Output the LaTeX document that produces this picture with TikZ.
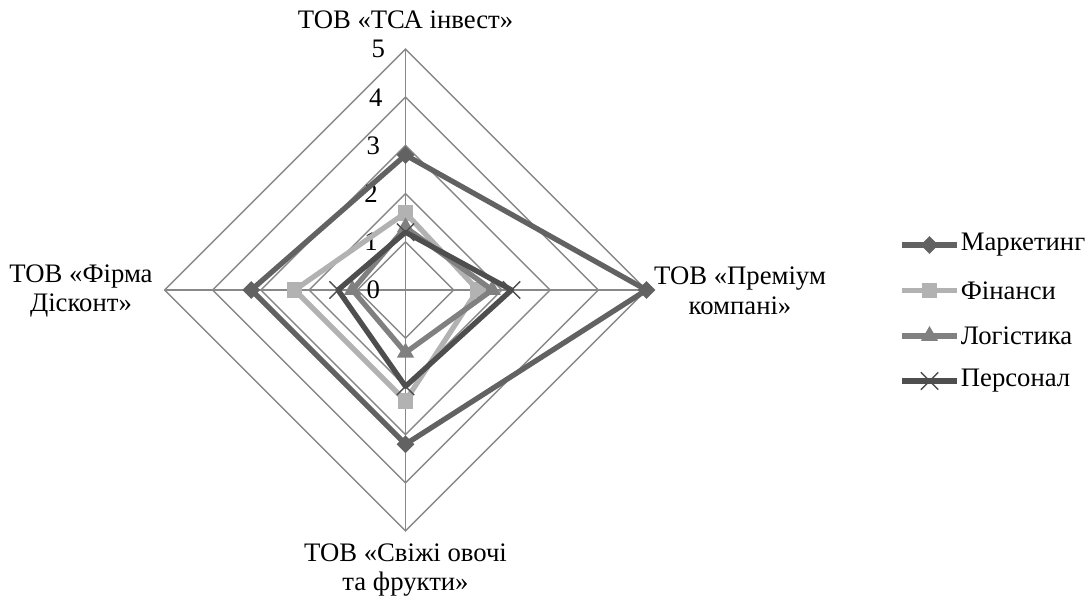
\documentclass[tikz,border=0pt]{standalone}
\usepackage{fontspec}
\setmainfont{Liberation Serif}
\usepackage{xcolor}
\usepackage{tikz}
\definecolor{markgray}{RGB}{98, 98, 98}
\definecolor{fingray}{RGB}{178, 178, 178}
\definecolor{loggray}{RGB}{128, 128, 128}
\definecolor{persgray}{RGB}{78, 78, 78}
\definecolor{gridgray}{RGB}{136, 136, 136}
\usetikzlibrary{shapes.geometric, shapes.misc, positioning}

\begin{document}
\begin{tikzpicture}[
    x=0.02cm, y=-0.02cm,
    font=\fontsize{15.2}{17}\selectfont,
    gridline/.style={draw=gridgray, line width=0.8pt},
    series/.style={line width=3pt, line join=round},
    mdiamond/.style={diamond, fill=markgray, inner sep=0pt, minimum size=0.36cm},
    msquare/.style={rectangle, fill=fingray, inner sep=0pt, minimum size=0.31cm},
    mtriangle/.style={regular polygon, regular polygon sides=3, fill=loggray,
                      inner sep=0pt, minimum size=0.4cm},
    mcross/.style={cross out, draw=persgray, line width=0.8pt,
                   inner sep=0pt, minimum size=0.32cm},
    axislabel/.style={align=center, inner sep=0pt},
    ticklabel/.style={anchor=east, inner sep=0pt},
    legtext/.style={inner sep=2pt}
]
    \useasboundingbox (0,0) rectangle (1086,601);
    \coordinate (c) at (405.5,290);

    \begin{scope}[shift={(c)}, x=0.964cm, y=0.964cm]
        % Grid
        \draw[gridline] (0,1) -- (1,0) -- (0,-1) -- (-1,0) -- cycle;
        \draw[gridline] (0,2) -- (2,0) -- (0,-2) -- (-2,0) -- cycle;
        \draw[gridline] (0,3) -- (3,0) -- (0,-3) -- (-3,0) -- cycle;
        \draw[gridline] (0,4) -- (4,0) -- (0,-4) -- (-4,0) -- cycle;
        \draw[gridline] (0,5) -- (5,0) -- (0,-5) -- (-5,0) -- cycle;
        \draw[gridline] (0,5) -- (0,-5);
        \draw[gridline] (-5,0) -- (5,0);

        % Tick labels
        \node[ticklabel] (t0) at (-0.52,0) {0};
        \node[ticklabel] (t1) at (-0.57,1) {1};
        \node[ticklabel] (t2) at (-0.57,2) {2};
        \node[ticklabel] (t3) at (-0.52,3) {3};
        \node[ticklabel] (t4) at (-0.47,4) {4};
        \node[ticklabel] (t5) at (-0.42,5) {5};

        % Data points
        \coordinate (m1) at (0,2.8);  \coordinate (m2) at (5,0);
        \coordinate (m3) at (0,-3.2); \coordinate (m4) at (-3.2,0);
        \coordinate (f1) at (0,1.6);  \coordinate (f2) at (1.5,0);
        \coordinate (f3) at (0,-2.3); \coordinate (f4) at (-2.3,0);
        \coordinate (g1) at (0,1.3);  \coordinate (g2) at (1.8,0);
        \coordinate (g3) at (0,-1.3); \coordinate (g4) at (-1.1,0);
        \coordinate (p1) at (0,1.2);  \coordinate (p2) at (2.2,0);
        \coordinate (p3) at (0,-2.0); \coordinate (p4) at (-1.4,0);

        % Series
        \draw[series, markgray] (m1) -- (m2) -- (m3) -- (m4) -- cycle;
        \node[mdiamond] at (m1) {}; \node[mdiamond] at (m2) {};
        \node[mdiamond] at (m3) {}; \node[mdiamond] at (m4) {};
        \draw[series, fingray] (f1) -- (f2) -- (f3) -- (f4) -- cycle;
        \node[msquare] at (f1) {}; \node[msquare] at (f2) {};
        \node[msquare] at (f3) {}; \node[msquare] at (f4) {};
        \draw[series, loggray] (g1) -- (g2) -- (g3) -- (g4) -- cycle;
        \node[mtriangle] at (g1) {}; \node[mtriangle] at (g2) {};
        \node[mtriangle] at (g3) {}; \node[mtriangle] at (g4) {};
        \draw[series, persgray] (p1) -- (p2) -- (p3) -- (p4) -- cycle;
        \node[mcross] at (p1) {}; \node[mcross] at (p2) {};
        \node[mcross] at (p3) {}; \node[mcross] at (p4) {};
    \end{scope}

    % Axis labels
    \node[axislabel] (ntop) at (405.5,20) {ТОВ «ТСА інвест»};
    \node[axislabel] (nright) at (740,291) {ТОВ «Преміум\\компані»};
    \node[axislabel] (nbottom) at (405.5,570) {ТОВ «Свіжі овочі\\та фрукти»};
    \node[axislabel] (nleft) at (81,291) {ТОВ «Фірма\\Дісконт»};

    % Legend
    \coordinate (l1a) at (902,245);   \coordinate (l1b) at (957,245);
    \coordinate (l2a) at (902,290.5); \coordinate (l2b) at (957,290.5);
    \coordinate (l3a) at (902,336);   \coordinate (l3b) at (957,336);
    \coordinate (l4a) at (902,381);   \coordinate (l4b) at (957,381);
    \draw[series, markgray] (l1a) -- (l1b);
    \node[mdiamond] (k1) at (929.5,245) {};
    \node[legtext, right=0pt of l1b] (e1) {Маркетинг};
    \draw[series, fingray] (l2a) -- (l2b);
    \node[msquare] (k2) at (929.5,290.5) {};
    \node[legtext, right=0pt of l2b] (e2) {Фінанси};
    \draw[series, loggray] (l3a) -- (l3b);
    \node[mtriangle] (k3) at (929.5,336) {};
    \node[legtext, right=0pt of l3b] (e3) {Логістика};
    \draw[series, persgray] (l4a) -- (l4b);
    \node[mcross] (k4) at (929.5,381) {};
    \node[legtext, right=0pt of l4b] (e4) {Персонал};
\end{tikzpicture}
\end{document}
